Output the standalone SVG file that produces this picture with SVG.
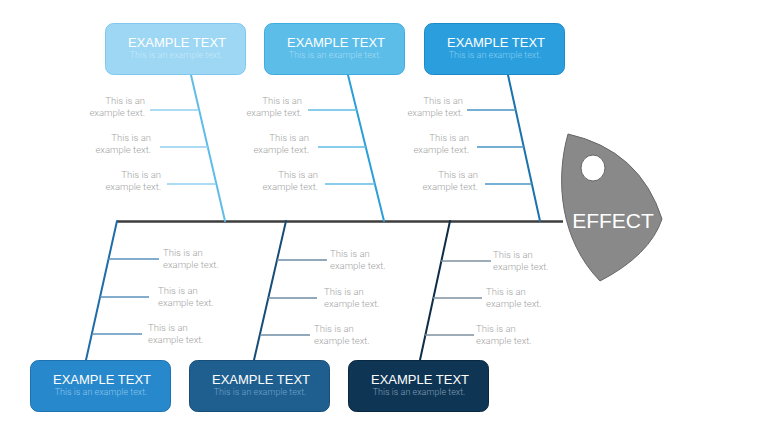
<svg xmlns="http://www.w3.org/2000/svg" width="760" height="428" viewBox="0 0 760 428">
<style>
.box{stroke-width:1}
.title{font-family:"Liberation Sans",Arial,sans-serif;font-size:13px;fill:#ffffff;text-anchor:middle}
.sub{font-family:Roboto,"Liberation Sans",sans-serif;font-weight:300;font-size:9px;text-anchor:middle}
.lbl{font-family:Roboto,"Liberation Sans",sans-serif;font-weight:300;font-size:9.5px;fill:#a3a3a3}
.end{text-anchor:end}
.bone{fill:none;stroke-width:2;stroke-linecap:round}
.rib{fill:none;stroke-width:1.3}
</style>
<rect width="760" height="428" fill="#ffffff"/>

<g id="connectors">
  <line x1="117" y1="221.5" x2="563" y2="221.5" stroke="#3c3c3c" stroke-width="2.5"/>
  <line class="bone" x1="191" y1="75" x2="225" y2="221" stroke="#5fbde8"/>
  <line class="bone" x1="348" y1="75" x2="384" y2="221" stroke="#2a9fd8"/>
  <line class="bone" x1="508" y1="75" x2="540" y2="221" stroke="#1c72ac"/>
  <line class="bone" x1="117" y1="221" x2="86" y2="360" stroke="#1f6ca8"/>
  <line class="bone" x1="286" y1="221" x2="254" y2="360" stroke="#174d77"/>
  <line class="bone" x1="450" y1="221" x2="420" y2="360" stroke="#0e2d48"/>

  <g stroke="#8fd0ef">
    <line class="rib" x1="150" y1="110" x2="199" y2="110"/>
    <line class="rib" x1="160" y1="147" x2="208" y2="147"/>
    <line class="rib" x1="167" y1="184" x2="216" y2="184"/>
  </g>
  <g stroke="#62bde6">
    <line class="rib" x1="308" y1="110" x2="357" y2="110"/>
    <line class="rib" x1="318" y1="147" x2="366" y2="147"/>
    <line class="rib" x1="325" y1="184" x2="375" y2="184"/>
  </g>
  <g stroke="#4a94c6">
    <line class="rib" x1="467" y1="110" x2="516" y2="110"/>
    <line class="rib" x1="477" y1="147" x2="524" y2="147"/>
    <line class="rib" x1="485" y1="184" x2="532" y2="184"/>
  </g>
  <g stroke="#5b90bb">
    <line class="rib" x1="108" y1="259" x2="159" y2="259"/>
    <line class="rib" x1="100" y1="297" x2="149" y2="297"/>
    <line class="rib" x1="92" y1="334" x2="142" y2="334"/>
  </g>
  <g stroke="#6e8ca6">
    <line class="rib" x1="277" y1="260" x2="327" y2="260"/>
    <line class="rib" x1="268" y1="298" x2="317" y2="298"/>
    <line class="rib" x1="260" y1="335" x2="310" y2="335"/>
  </g>
  <g stroke="#7d909e">
    <line class="rib" x1="441" y1="261" x2="491" y2="261"/>
    <line class="rib" x1="433" y1="298" x2="482" y2="298"/>
    <line class="rib" x1="425" y1="335" x2="474" y2="335"/>
  </g>
</g>

<g id="labels">
  <text class="lbl end" x="145" y="104">This is an</text><text class="lbl end" x="145" y="115.5">example text.</text>
  <text class="lbl end" x="151" y="141">This is an</text><text class="lbl end" x="151" y="152.5">example text.</text>
  <text class="lbl end" x="161" y="178">This is an</text><text class="lbl end" x="161" y="189.5">example text.</text>

  <text class="lbl end" x="302" y="104">This is an</text><text class="lbl end" x="302" y="115.5">example text.</text>
  <text class="lbl end" x="309" y="141">This is an</text><text class="lbl end" x="309" y="152.5">example text.</text>
  <text class="lbl end" x="318" y="178">This is an</text><text class="lbl end" x="318" y="189.5">example text.</text>

  <text class="lbl end" x="463" y="104">This is an</text><text class="lbl end" x="463" y="115.5">example text.</text>
  <text class="lbl end" x="469" y="141">This is an</text><text class="lbl end" x="469" y="152.5">example text.</text>
  <text class="lbl end" x="478" y="178">This is an</text><text class="lbl end" x="478" y="189.5">example text.</text>

  <text class="lbl" x="163" y="256">This is an</text><text class="lbl" x="163" y="268">example text.</text>
  <text class="lbl" x="158" y="294">This is an</text><text class="lbl" x="158" y="306">example text.</text>
  <text class="lbl" x="148" y="331">This is an</text><text class="lbl" x="148" y="343">example text.</text>

  <text class="lbl" x="330" y="257">This is an</text><text class="lbl" x="330" y="269">example text.</text>
  <text class="lbl" x="324" y="295">This is an</text><text class="lbl" x="324" y="307">example text.</text>
  <text class="lbl" x="314" y="332">This is an</text><text class="lbl" x="314" y="344">example text.</text>

  <text class="lbl" x="493" y="258">This is an</text><text class="lbl" x="493" y="270">example text.</text>
  <text class="lbl" x="486" y="295">This is an</text><text class="lbl" x="486" y="307">example text.</text>
  <text class="lbl" x="476" y="332">This is an</text><text class="lbl" x="476" y="344">example text.</text>
</g>

<g id="box-top-1">
  <rect class="box" x="105.5" y="23.5" width="140" height="51" rx="8" fill="#9dd7f4" stroke="#7fc8ee"/>
  <text class="title" x="177" y="47">EXAMPLE TEXT</text>
  <text class="sub" x="176" y="57.5" fill="#c6e8f8">This is an example text.</text>
</g>
<g id="box-top-2">
  <rect class="box" x="264.5" y="23.5" width="140" height="51" rx="8" fill="#5cbde9" stroke="#3fabe0"/>
  <text class="title" x="336" y="47">EXAMPLE TEXT</text>
  <text class="sub" x="335" y="57.5" fill="#a3daf3">This is an example text.</text>
</g>
<g id="box-top-3">
  <rect class="box" x="424.5" y="23.5" width="140" height="51" rx="8" fill="#2b9fdd" stroke="#1f88c6"/>
  <text class="title" x="496" y="47">EXAMPLE TEXT</text>
  <text class="sub" x="495" y="57.5" fill="#85ccef">This is an example text.</text>
</g>
<g id="box-bottom-1">
  <rect class="box" x="30.5" y="360.5" width="140" height="51" rx="8" fill="#2788cc" stroke="#1d72b0"/>
  <text class="title" x="102" y="384">EXAMPLE TEXT</text>
  <text class="sub" x="101" y="395" fill="#8cc5ec">This is an example text.</text>
</g>
<g id="box-bottom-2">
  <rect class="box" x="189.5" y="360.5" width="140" height="51" rx="8" fill="#1f5f90" stroke="#174d77"/>
  <text class="title" x="261" y="384">EXAMPLE TEXT</text>
  <text class="sub" x="260" y="395" fill="#6fa2c8">This is an example text.</text>
</g>
<g id="box-bottom-3">
  <rect class="box" x="348.5" y="360.5" width="140" height="51" rx="8" fill="#0f3554" stroke="#0a2740"/>
  <text class="title" x="420" y="384">EXAMPLE TEXT</text>
  <text class="sub" x="419" y="395" fill="#7f9db6">This is an example text.</text>
</g>

<g id="effect">
  <path d="M568,134 Q640,150 662,219 Q650,255 600,281 C560,240 555,180 568,134 Z" fill="#898989" stroke="#666666" stroke-width="1"/>
  <ellipse cx="593" cy="168" rx="12" ry="13" fill="#ffffff" stroke="#666666" stroke-width="1"/>
  <text x="613" y="227.5" font-family="'Liberation Sans',Arial,sans-serif" font-size="21" fill="#ffffff" text-anchor="middle">EFFECT</text>
</g>
</svg>
